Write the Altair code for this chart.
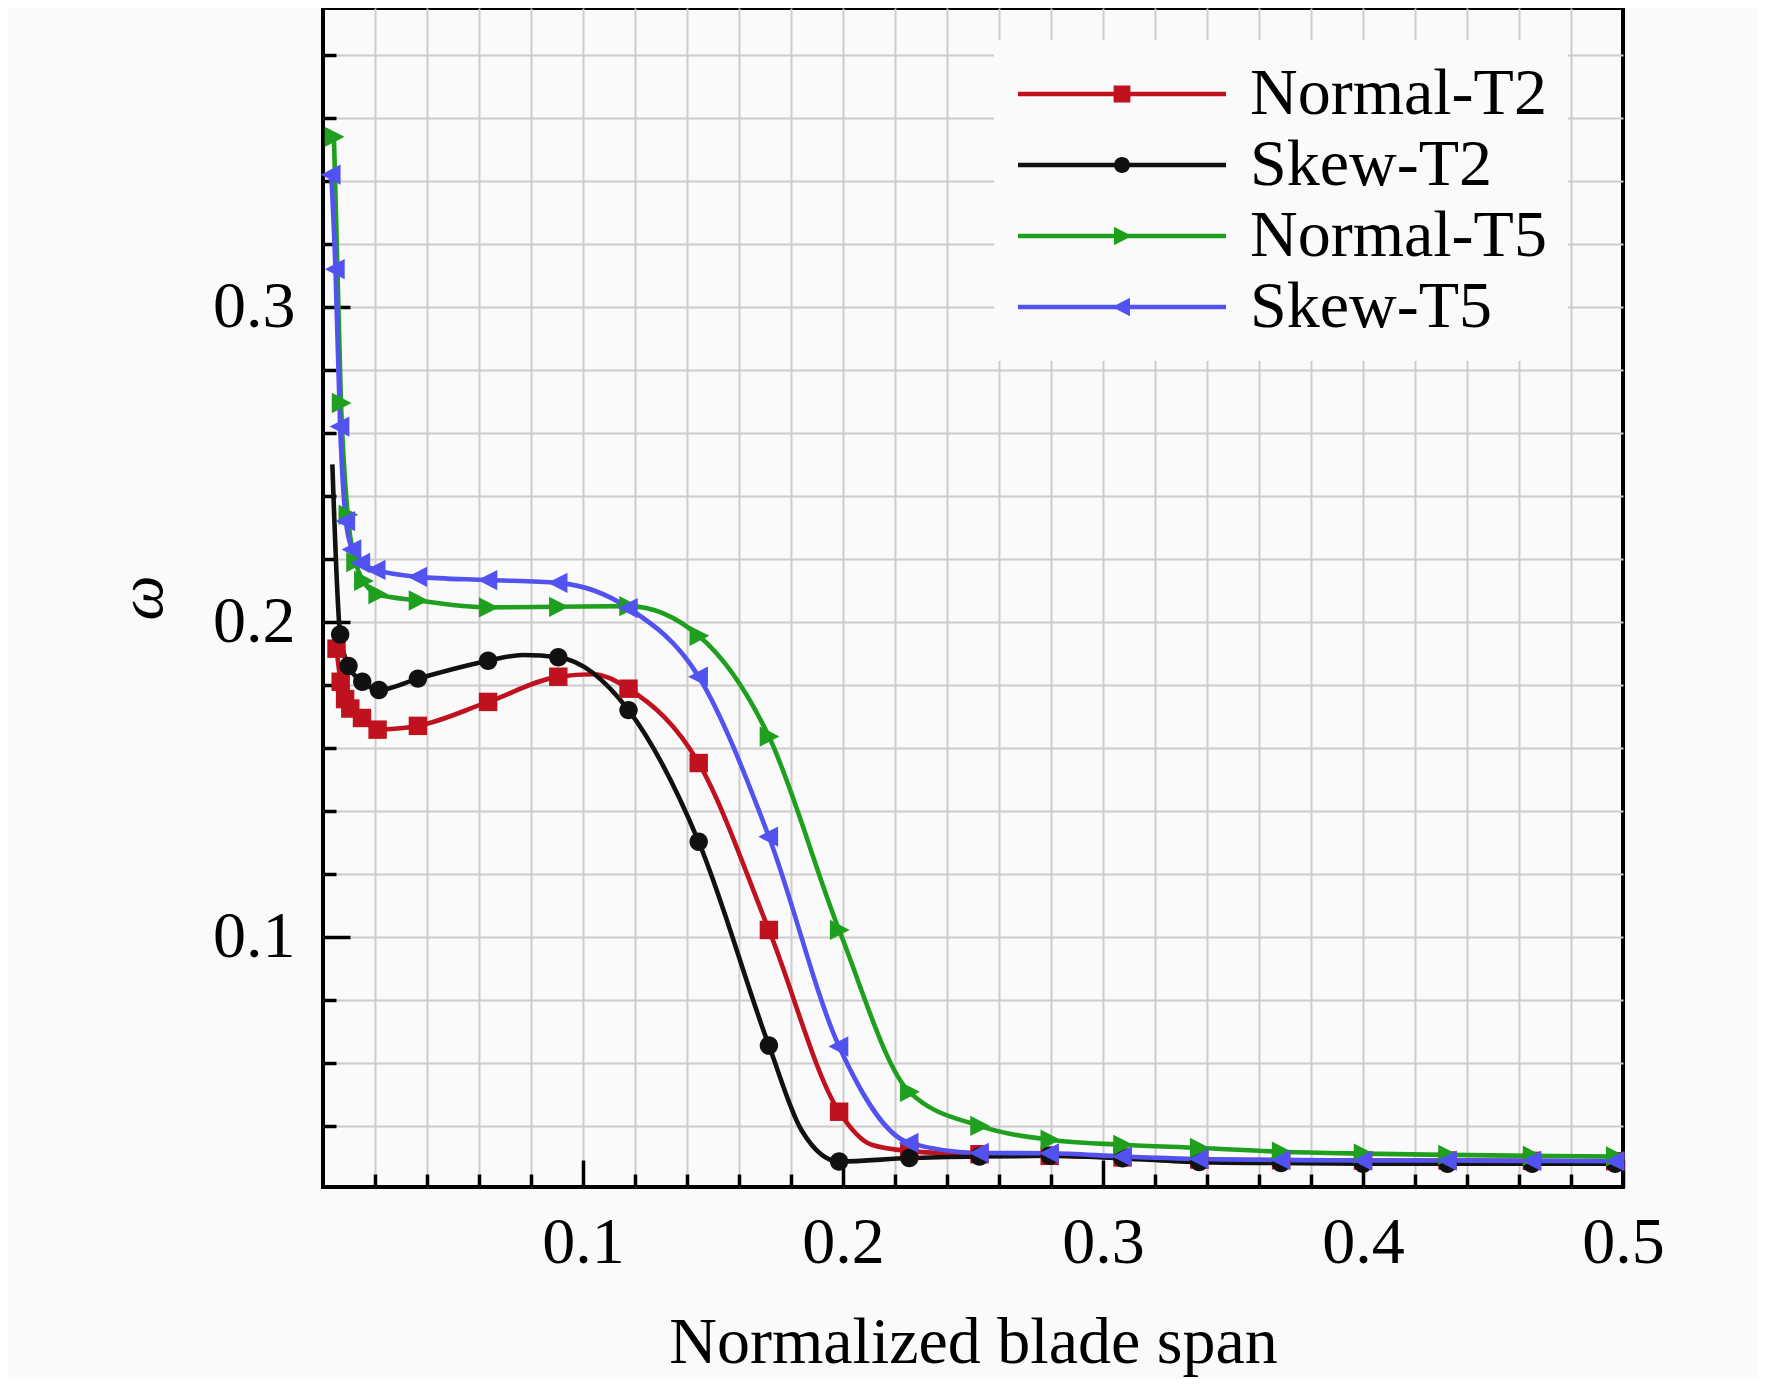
import altair as alt
import pandas as pd

FONT = "Liberation Serif"
BG = "#fafafa"
GRID = "#cccccc"

SERIES = ["Normal-T2", "Skew-T2", "Normal-T5", "Skew-T5"]
COLORS = ["#c0111f", "#111111", "#1ea01e", "#5252f0"]

# Normal-T2 (red squares)
NT2_X = [0.0052, 0.0068, 0.0085, 0.0105, 0.015, 0.021, 0.0365, 0.0635, 0.0905, 0.104, 0.1175, 0.1445, 0.1715,
         0.1985, 0.211, 0.2255, 0.2525, 0.2795, 0.3075, 0.337, 0.3685, 0.400, 0.4325, 0.465, 0.497]
NT2_Y = [0.1915, 0.181, 0.1755, 0.1725, 0.1695, 0.1658, 0.1670, 0.1746, 0.1826, 0.1834, 0.1788, 0.1552, 0.1022,
         0.0445, 0.0340, 0.0320, 0.0310, 0.0305, 0.0300, 0.0293, 0.0291, 0.0290, 0.0290, 0.0289, 0.0288]
NT2_M = [1, 1, 1, 1, 1, 1, 1, 1, 1, 0, 1, 1, 1,
         1, 0, 1, 1, 1, 1, 1, 1, 1, 1, 1, 1]

# Skew-T2 (black circles)
ST2_X = [0.0036, 0.0066, 0.0098, 0.0151, 0.0215, 0.0365, 0.0635, 0.077, 0.0905, 0.1175, 0.1445, 0.1715, 0.184,
         0.1985, 0.2255, 0.2525, 0.2795, 0.3075, 0.337, 0.3685, 0.400, 0.4325, 0.465, 0.497]
ST2_Y = [0.250, 0.196, 0.186, 0.181, 0.1784, 0.182, 0.1877, 0.1895, 0.1888, 0.172, 0.1302, 0.0655, 0.0387,
         0.0287, 0.0298, 0.0303, 0.0305, 0.0297, 0.0285, 0.0282, 0.0280, 0.0280, 0.0280, 0.0280]
ST2_M = [0, 1, 1, 1, 1, 1, 1, 0, 1, 1, 1, 1, 0,
         1, 1, 1, 1, 1, 1, 1, 1, 1, 1, 1]

# Normal-T5 (green right triangles)
NT5_X = [0.0042, 0.0069, 0.0095, 0.0125, 0.0155, 0.021, 0.0365, 0.0635, 0.0905, 0.1175, 0.1445, 0.1715,
         0.1985, 0.2255, 0.2525, 0.2795, 0.3075, 0.337, 0.3685, 0.400, 0.4325, 0.465, 0.497]
NT5_Y = [0.354, 0.2695, 0.234, 0.219, 0.213, 0.2088, 0.2068, 0.2046, 0.2048, 0.2050, 0.1956, 0.1636,
         0.1022, 0.0508, 0.0400, 0.0356, 0.0340, 0.0330, 0.0318, 0.0312, 0.0308, 0.0305, 0.0303]
NT5_M = [1] * len(NT5_X)

# Skew-T5 (blue left triangles)
ST5_X = [0.0032, 0.0048, 0.0066, 0.0088, 0.0112, 0.0146, 0.0205, 0.0365, 0.0635, 0.0905, 0.1175, 0.1445, 0.1715,
         0.1985, 0.2255, 0.2525, 0.2795, 0.3075, 0.337, 0.3685, 0.400, 0.4325, 0.465, 0.497]
ST5_Y = [0.342, 0.312, 0.262, 0.232, 0.223, 0.2187, 0.2165, 0.2143, 0.2133, 0.2124, 0.2044, 0.1826, 0.1318,
         0.0652, 0.0346, 0.0314, 0.0313, 0.0303, 0.0295, 0.0292, 0.0290, 0.0290, 0.0289, 0.0288]
ST5_M = [1] * len(ST5_X)

X_TICKS = [0.02, 0.04, 0.06, 0.08, 0.1, 0.12, 0.14, 0.16, 0.18, 0.2, 0.22, 0.24, 0.26, 0.28, 0.3,
           0.32, 0.34, 0.36, 0.38, 0.4, 0.42, 0.44, 0.46, 0.48, 0.5]
Y_TICKS = [0.04, 0.06, 0.08, 0.1, 0.12, 0.14, 0.16, 0.18, 0.2, 0.22, 0.24, 0.26, 0.28, 0.3,
           0.32, 0.34, 0.36, 0.38]

MARKERS = [
    "M-1,-1H1V1H-1Z",
    "M-1,0A1,1 0 1,1 1,0A1,1 0 1,1 -1,0Z",
    "M-1,-1.1L1.15,0L-1,1.1Z",
    "M1,-1.1L1,1.1L-1.15,0Z",
]
LINE_BAR = "M-13,-0.28H13V0.28H-13Z "
LEGEND_SHAPES = [
    LINE_BAR + "M-1.05,-1.05H1.05V1.05H-1.05Z",
    LINE_BAR + "M-1,0A1,1 0 1,1 1,0A1,1 0 1,1 -1,0Z",
    LINE_BAR + "M-1,-1.15L1.25,0L-1,1.15Z",
    LINE_BAR + "M1,-1.15L1,1.15L-1.25,0Z",
]

rows = []
for name, xs, ys, ms in [
    ("Normal-T2", NT2_X, NT2_Y, NT2_M),
    ("Skew-T2", ST2_X, ST2_Y, ST2_M),
    ("Normal-T5", NT5_X, NT5_Y, NT5_M),
    ("Skew-T5", ST5_X, ST5_Y, ST5_M),
]:
    for x, y, m in zip(xs, ys, ms):
        rows.append({"series": name, "x": x, "y": y, "marked": bool(m)})
df = pd.DataFrame(rows)

MAJOR = "abs(datum.value*10 - round(datum.value*10)) < 0.000001"

x_axis = alt.Axis(
    values=X_TICKS,
    grid=True,
    gridColor={"condition": {"test": "datum.value > 0.499", "value": "transparent"}, "value": GRID},
    gridWidth=2,
    domain=False,
    tickSize={"condition": {"test": MAJOR, "value": -27}, "value": -13},
    tickColor="black",
    tickWidth=3.5,
    labelExpr=f"{MAJOR} ? format(datum.value, '.1f') : ''",
    labelFont=FONT,
    labelFontSize=66,
    labelColor="black",
    labelPadding=50,
    labelOverlap=False,
    labelFlush=False,
    title="Normalized blade span",
    titleFont=FONT,
    titleFontSize=66,
    titleFontWeight="normal",
    titleColor="black",
    titlePadding=21,
)

y_axis = alt.Axis(
    values=Y_TICKS,
    grid=True,
    gridColor=GRID,
    gridWidth=2,
    domain=False,
    tickSize={"condition": {"test": MAJOR, "value": -27}, "value": -13},
    tickColor="black",
    tickWidth=3.5,
    labelExpr=f"{MAJOR} ? format(datum.value, '.1f') : ''",
    labelFont=FONT,
    labelFontSize=66,
    labelColor="black",
    labelPadding=55,
    labelOverlap=False,
    labelFlush=False,
    title="ω",
    titleFont=FONT,
    titleFontSize=64,
    titleFontStyle="italic",
    titleFontWeight="normal",
    titleColor="black",
    titlePadding=38,
)

xenc = alt.X("x:Q", scale=alt.Scale(domain=[0, 0.5], nice=False, zero=False), axis=x_axis)
yenc = alt.Y("y:Q", scale=alt.Scale(domain=[0.0206, 0.3949], nice=False, zero=False), axis=y_axis)
color_scale = alt.Scale(domain=SERIES, range=COLORS)

legend = alt.Legend(
    title=None,
    orient="none",
    legendX=671,
    legendY=32,
    fillColor=BG,
    padding=21,
    rowPadding=5,
    symbolSize=256,
    symbolStrokeWidth=0,
    symbolOffset=74,
    symbolOpacity=1,
    labelOffset=95,
    labelFont=FONT,
    labelFontSize=66,
    labelColor="black",
    labelLimit=1000,
)

base = alt.Chart(df)

lines = base.mark_line(interpolate="monotone", strokeWidth=4.6).encode(
    x=xenc, y=yenc,
    color=alt.Color("series:N", scale=color_scale, legend=None),
)

points = base.transform_filter("datum.marked").mark_point(
    filled=True, size=340, opacity=1, strokeWidth=0
).encode(
    x=xenc, y=yenc,
    color=alt.Color("series:N", scale=color_scale, legend=None),
    shape=alt.Shape("series:N", scale=alt.Scale(domain=SERIES, range=MARKERS), legend=None),
)

legend_layer = base.transform_filter("false").mark_point(filled=True, strokeWidth=0).encode(
    color=alt.Color("series:N", scale=color_scale, legend=legend),
    shape=alt.Shape("series:N", scale=alt.Scale(domain=SERIES, range=LEGEND_SHAPES), legend=legend),
)

chart = (
    alt.layer(lines, points, legend_layer)
    .resolve_scale(color="independent", shape="independent")
    .properties(
        width=1300,
        height=1179,
        padding={"left": 315, "top": 0, "right": 135, "bottom": 192},
        autosize=alt.AutoSizeParams(type="none"),
    )
    .configure(background=BG)
    .configure_view(stroke="black", strokeWidth=4, fill=BG)
)

chart.save("out.html", embed_options={"renderer": "svg", "actions": False})
